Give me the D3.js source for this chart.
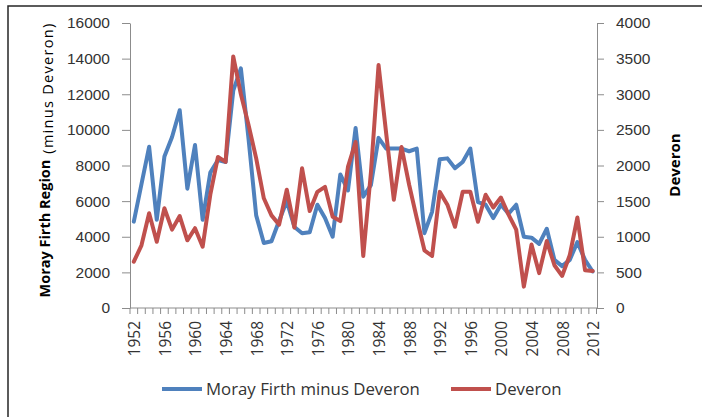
<!DOCTYPE html>
<html>
<head>
<meta charset="utf-8">
<script src="https://cdn.jsdelivr.net/npm/d3@7"></script>
<style>
  body { margin: 0; background: #fff; }
  svg { font-family: "Open Sans", Lato, sans-serif; }
  .tick text { fill: #333; font-size: 15.5px; }
  .axis path, .axis line { stroke: #8c8c8c; }
</style>
</head>
<body>
<svg width="702" height="417"></svg>
<script>
// values
var years = [1952, 1953, 1954, 1955, 1956, 1957, 1958, 1959, 1960, 1961,
             1962, 1963, 1964, 1965, 1966, 1967, 1968, 1969, 1970, 1971,
             1972, 1973, 1974, 1975, 1976, 1977, 1978, 1979, 1980, 1981,
             1982, 1983, 1984, 1985, 1986, 1987, 1988, 1989, 1990, 1991,
             1992, 1993, 1994, 1995, 1996, 1997, 1998, 1999, 2000, 2001,
             2002, 2003, 2004, 2005, 2006, 2007, 2008, 2009, 2010, 2011, 2012];

var moray = [4850, 6950, 9050, 4950, 8500, 9600, 11100, 6700, 9150, 4950,
             7600, 8300, 8200, 12200, 13450, 9500, 5200, 3650, 3750, 4900,
             6000, 4550, 4200, 4250, 5800, 5050, 4000, 7500, 6600, 10100,
             6250, 6900, 9550, 8950, 8950, 8950, 8800, 8950, 4200, 5400,
             8350, 8400, 7850, 8200, 8950, 5950, 5800, 5050, 5800, 5300,
             5800, 4000, 3950, 3600, 4450, 2700, 2350, 2700, 3700, 2700, 2050];

var deveron = [650, 880, 1330, 930, 1400, 1100, 1290, 950, 1120, 860,
               1590, 2120, 2050, 3530, 3000, 2570, 2100, 1540, 1300, 1170,
               1660, 1130, 1960, 1360, 1630, 1700, 1280, 1220, 1980, 2330,
               730, 1900, 3410, 2450, 1520, 2260, 1730, 1260, 810, 730,
               1630, 1450, 1140, 1630, 1630, 1210, 1590, 1410, 1550, 1310,
               1100, 300, 890, 490, 940, 600, 450, 740, 1270, 530, 520];

var leftTicks = [0, 2000, 4000, 6000, 8000, 10000, 12000, 14000, 16000];
var rightTicks = [0, 500, 1000, 1500, 2000, 2500, 3000, 3500, 4000];
var labelYears = [1952, 1956, 1960, 1964, 1968, 1972, 1976, 1980, 1984,
                  1988, 1992, 1996, 2000, 2004, 2008, 2012];

var BLUE = "#4f81bd", RED = "#c0504d";

var svg = d3.select("svg");

var x = d3.scaleBand().domain(years).range([130, 596.5]);
var yL = d3.scaleLinear().domain([0, 16000]).range([308, 23]);
var yR = d3.scaleLinear().domain([0, 4000]).range([308, 23]);

// frame (only top and left edges show in the crop)
svg.append("path")
    .attr("d", "M8,417V6H702")
    .attr("fill", "none")
    .attr("stroke", "#262626")
    .attr("stroke-width", 1.5);

svg.append("g")
    .attr("class", "axis")
    .attr("transform", "translate(130,0)")
    .call(d3.axisLeft(yL).tickValues(leftTicks).tickFormat(d3.format("d"))
        .tickSize(8).tickSizeOuter(0).tickPadding(12));

svg.append("g")
    .attr("class", "axis")
    .attr("transform", "translate(597,0)")
    .call(d3.axisRight(yR).tickValues(rightTicks).tickFormat(d3.format("d"))
        .tickSize(7).tickSizeOuter(0).tickPadding(12));

// category axis: ticks between the categories
var xa = svg.append("g").attr("class", "axis");
xa.append("line")
    .attr("x1", 130).attr("x2", 597)
    .attr("y1", 308).attr("y2", 308);
xa.selectAll(".xt")
    .data(years.concat([null]))
  .enter().append("line")
    .attr("class", "xt")
    .attr("x1", d => d === null ? x.range()[1] : x(d))
    .attr("x2", d => d === null ? x.range()[1] : x(d))
    .attr("y1", 308).attr("y2", 314);
xa.selectAll(".xl")
    .data(labelYears)
  .enter().append("text")
    .attr("class", "xl")
    .attr("transform", d => "translate(" + (x(d) + x.bandwidth() / 2 + 1) + ",321) rotate(-90)")
    .attr("text-anchor", "end")
    .attr("dy", "0.35em")
    .attr("fill", "#333")
    .style("font-size", "15.5px")
    .text(d => d);

var lineL = d3.line()
    .x((d, i) => x(years[i]) + x.bandwidth() / 2)
    .y(d => yL(d));
var lineR = d3.line()
    .x((d, i) => x(years[i]) + x.bandwidth() / 2)
    .y(d => yR(d));

svg.append("path")
    .datum(moray)
    .attr("fill", "none")
    .attr("stroke", BLUE)
    .attr("stroke-width", 4)
    .attr("stroke-linejoin", "round")
    .attr("stroke-linecap", "round")
    .attr("d", lineL);

svg.append("path")
    .datum(deveron)
    .attr("fill", "none")
    .attr("stroke", RED)
    .attr("stroke-width", 4)
    .attr("stroke-linejoin", "round")
    .attr("stroke-linecap", "round")
    .attr("d", lineR);

// axis titles
var lt = svg.append("text")
    .attr("transform", "translate(50,160) rotate(-90)")
    .attr("text-anchor", "middle")
    .attr("fill", "#000");
lt.append("tspan")
    .style("font-size", "14.5px")
    .style("font-weight", "bold")
    .text("Moray Firth Region");
lt.append("tspan")
    .style("font-size", "14.5px")
    .style("letter-spacing", "1.3px")
    .attr("dx", 6)
    .attr("dy", 3)
    .text("(minus Deveron)");

svg.append("text")
    .attr("transform", "translate(680,165) rotate(-90)")
    .attr("text-anchor", "middle")
    .style("font-size", "15px")
    .style("font-weight", "bold")
    .text("Deveron");

// legend
var legend = [
    {name: "Moray Firth minus Deveron", color: BLUE, x: 162},
    {name: "Deveron", color: RED, x: 451}
];
var lg = svg.selectAll(".lg")
    .data(legend)
  .enter().append("g")
    .attr("class", "lg")
    .attr("transform", d => "translate(" + d.x + ",389)");
lg.append("line")
    .attr("x1", 0).attr("x2", 40)
    .attr("stroke", d => d.color)
    .attr("stroke-width", 4);
lg.append("text")
    .attr("x", 44)
    .attr("dy", "0.35em")
    .attr("fill", "#333")
    .style("font-size", "16.8px")
    .text(d => d.name);
</script>
</body>
</html>
